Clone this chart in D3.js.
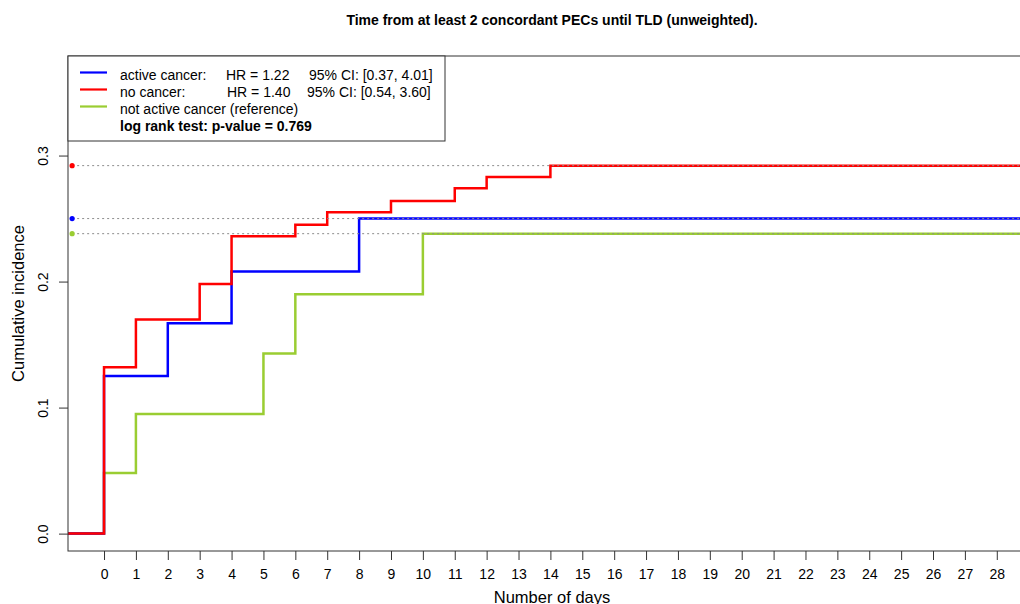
<!DOCTYPE html>
<meta charset="utf-8">
<head>
  <script src="https://d3js.org/d3.v7.min.js"></script>
  <style>
    body { margin: 0; background: #fff; }
    text { font-family: "Liberation Sans", Arial, sans-serif; fill: #000; }
  </style>
</head>
<body>
<svg width="1020" height="604"></svg>
<script>
// cumulative incidence (step after each day)
var activeDays = [0, 2, 4, 8];
var activeCI = [0.125, 0.167, 0.208, 0.250];
var noDays = [0, 1, 3, 4, 6, 7, 9, 11, 12, 14];
var noCI = [0.132, 0.170, 0.198, 0.236, 0.245, 0.255, 0.264, 0.274, 0.283, 0.292];
var notActiveDays = [0, 1, 5, 6, 10];
var notActiveCI = [0.048, 0.095, 0.143, 0.190, 0.238];

var xTicks = d3.range(0, 29);
var yTicks = [0, 0.1, 0.2, 0.3];

var series = [
  {name: "not active cancer", days: notActiveDays, ci: notActiveCI, color: "#9acd32"},
  {name: "active cancer", days: activeDays, ci: activeCI, color: "#0000ff"},
  {name: "no cancer", days: noDays, ci: noCI, color: "#ff0000"}
];

var svg = d3.select("svg");
var m = {left: 68, right: 1036, top: 56, bottom: 551};

var x = d3.scaleLinear().domain([-1.13, 29.23]).range([m.left, m.right]);
var y = d3.scaleLinear().domain([-0.0138, 0.379]).range([m.bottom, m.top]);

svg.append("clipPath").attr("id", "plotclip")
  .append("rect").attr("x", m.left).attr("y", m.top)
  .attr("width", m.right - m.left).attr("height", m.bottom - m.top);

// title
svg.append("text")
  .attr("x", (m.left + m.right) / 2).attr("y", 25)
  .attr("text-anchor", "middle")
  .style("font-size", "14px").style("font-weight", "bold")
  .text("Time from at least 2 concordant PECs until TLD (unweighted).");

// curves
var line = d3.line()
  .x(function(d) { return x(d[0]); })
  .y(function(d) { return y(d[1]); })
  .curve(d3.curveStepAfter);

var plot = svg.append("g").attr("clip-path", "url(#plotclip)");

series.forEach(function(s) {
  var pts = [[x.domain()[0], 0]];
  s.days.forEach(function(d, i) { pts.push([d, s.ci[i]]); });
  pts.push([x.domain()[1], s.ci[s.ci.length - 1]]);
  plot.append("path")
    .attr("d", line(pts))
    .attr("fill", "none")
    .attr("stroke", s.color)
    .attr("stroke-width", 2.5);
});

// dotted reference lines at final values, with dots at the y axis
series.forEach(function(s) {
  var last = s.ci[s.ci.length - 1];
  plot.append("line")
    .attr("x1", x(-1)).attr("x2", x.range()[1])
    .attr("y1", y(last)).attr("y2", y(last))
    .attr("stroke", "#8c8c8c")
    .attr("stroke-width", 1)
    .attr("stroke-dasharray", "2,3");
  plot.append("circle")
    .attr("cx", x(-1)).attr("cy", y(last))
    .attr("r", 2.6)
    .attr("fill", s.color);
});

// axes
var xAxis = svg.append("g").attr("transform", "translate(0," + m.bottom + ")")
  .call(d3.axisBottom(x).tickValues(xTicks).tickSize(9).tickPadding(9).tickFormat(d3.format("d")));
xAxis.select(".domain").remove();
xAxis.selectAll("text").style("font-size", "14px").style("font-family", "Liberation Sans, Arial, sans-serif");
xAxis.selectAll("line").attr("stroke", "#333");

var yAxis = svg.append("g").attr("transform", "translate(" + m.left + ",0)")
  .call(d3.axisLeft(y).tickValues(yTicks).tickSize(9).tickFormat(d3.format(".1f")));
yAxis.select(".domain").remove();
yAxis.selectAll("line").attr("stroke", "#333");
yAxis.selectAll("text")
  .attr("x", null).attr("dy", null)
  .attr("text-anchor", "middle")
  .attr("transform", "translate(-20,0) rotate(-90)")
  .style("font-size", "14px").style("font-family", "Liberation Sans, Arial, sans-serif");

// plot box
svg.append("rect")
  .attr("x", m.left).attr("y", m.top).attr("width", m.right - m.left).attr("height", m.bottom - m.top)
  .attr("fill", "none").attr("stroke", "#333").attr("stroke-width", 1);

// axis titles
svg.append("text")
  .attr("x", (m.left + m.right) / 2).attr("y", 603)
  .attr("text-anchor", "middle")
  .style("font-size", "16.5px")
  .text("Number of days");

svg.append("text")
  .attr("transform", "translate(24," + (m.top + m.bottom) / 2 + ") rotate(-90)")
  .attr("text-anchor", "middle")
  .style("font-size", "16.5px")
  .text("Cumulative incidence");

// legend
var legend = svg.append("g");
legend.append("rect")
  .attr("x", m.left).attr("y", m.top).attr("width", 377).attr("height", 85)
  .attr("fill", "#fff").attr("stroke", "#333").attr("stroke-width", 1);

var legendRows = [
  {color: "#0000ff", parts: [["active cancer:", 120], ["HR = 1.22", 226], ["95% CI: [0.37, 4.01]", 309]]},
  {color: "#ff0000", parts: [["no cancer:", 120], ["HR = 1.40", 227], ["95% CI: [0.54, 3.60]", 307]]},
  {color: "#9acd32", parts: [["not active cancer (reference)", 120]]},
  {color: null, parts: [["log rank test: p-value = 0.769", 120]], bold: true}
];

legendRows.forEach(function(r, i) {
  var base = 80 + i * 17;
  if (r.color) {
    legend.append("line")
      .attr("x1", 80).attr("x2", 107)
      .attr("y1", base - 7.5).attr("y2", base - 7.5)
      .attr("stroke", r.color).attr("stroke-width", 2.2);
  }
  r.parts.forEach(function(p) {
    legend.append("text")
      .attr("x", p[1]).attr("y", base)
      .style("font-size", "14px")
      .style("font-weight", r.bold ? "bold" : "normal")
      .text(p[0]);
  });
});
</script>
</body>
</html>
